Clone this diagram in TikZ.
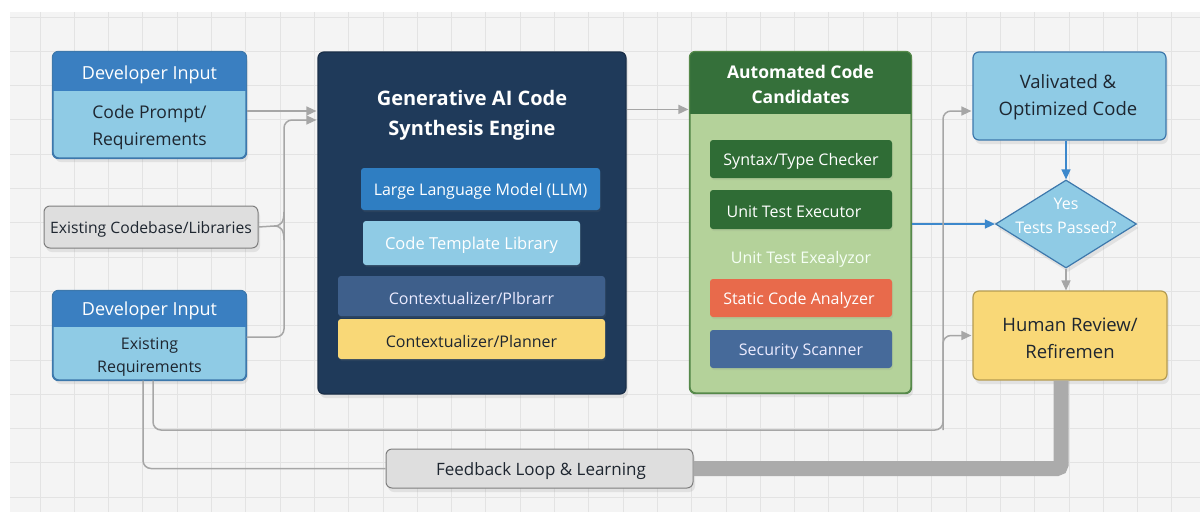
\documentclass[tikz,border=0pt]{standalone}
\usepackage{fontspec}
\setmainfont{Open Sans}
\usetikzlibrary{shapes.geometric,arrows.meta,shadows,calc}
\definecolor{panel}{HTML}{F4F4F4}
\definecolor{gridc}{HTML}{E3E3E3}
\definecolor{hdrblue}{HTML}{3A7FC1}
\definecolor{lblue}{HTML}{8FCBE5}
\definecolor{devb}{HTML}{3D78AC}
\definecolor{navy}{HTML}{1F3A5A}
\definecolor{llmc}{HTML}{2F7EC2}
\definecolor{ctxc}{HTML}{3E5F8B}
\definecolor{yel}{HTML}{F9D877}
\definecolor{yelb}{HTML}{B59C52}
\definecolor{dgreen}{HTML}{35703A}
\definecolor{lgreen}{HTML}{B4D29A}
\definecolor{gborder}{HTML}{56894A}
\definecolor{subgreen}{HTML}{2F6C35}
\definecolor{orng}{HTML}{E86A4B}
\definecolor{secc}{HTML}{466A9A}
\definecolor{fgrey}{HTML}{DEDEDE}
\definecolor{fborder}{HTML}{7E7E7E}
\definecolor{lgrey}{HTML}{A6A6A6}
\definecolor{thickg}{HTML}{ABABAB}
\definecolor{bline}{HTML}{3C88CC}
\definecolor{dtext}{HTML}{1E2630}
\newcommand\fz[2]{\fontsize{#1pt}{#2pt}\selectfont}
\begin{document}
\begin{tikzpicture}[x=1pt,y=-1pt,
  box/.style={rounded corners=6pt, line width=1.2pt, inner sep=0pt},
  shad/.style={drop shadow={opacity=0.16, shadow xshift=2pt, shadow yshift=-4pt}},
  subbox/.style={rounded corners=3pt, inner sep=0pt, drop shadow={opacity=0.12, shadow xshift=1pt, shadow yshift=-2pt}},
  lbl/.style={inner sep=0pt, align=center, yshift=-2.5pt},
  gline/.style={draw=lgrey, line width=1.5pt},
  garrow/.style={gline, -{Triangle[length=10pt,width=9pt]}},
  barrow/.style={draw=bline, line width=1.5pt, -{Triangle[length=10pt,width=9pt]}},
]
\useasboundingbox (0,0) rectangle (1200,512);
\fill[white] (0,0) rectangle (1200,512);
\fill[panel] (10,12) rectangle (1200,512);
\foreach \i in {0,...,33} \draw[gridc, line width=0.9pt] ({40+34.3*\i},12) -- ({40+34.3*\i},512);
\foreach \j in {0,...,14} \draw[gridc, line width=0.9pt] (10,{17+34.3*\j}) -- (1200,{17+34.3*\j});

% ---------- Developer Input 1
\node[box, fill=lblue, draw=devb, shad, minimum width=193pt, minimum height=106pt] (dev1) at (149.5,105) {};
\begin{scope}
\clip[rounded corners=6pt] (dev1.north west) rectangle (dev1.south east);
\fill[hdrblue] (dev1.north west) rectangle ([yshift=-40pt]dev1.north east);
\end{scope}
\draw[devb, line width=1.2pt, rounded corners=6pt] (dev1.north west) rectangle (dev1.south east);
\node[lbl, text=white, font=\fz{18}{22}] (dev1h) at (149.5,72) {Developer Input};
\node[lbl, text=dtext, font=\fz{17.5}{27}] (dev1b) at (149.5,125) {Code Prompt/\\Requirements};

% ---------- Existing Codebase
\node[box, fill=fgrey, draw=fborder, shad, minimum width=214pt, minimum height=42pt, line width=1pt] (exist) at (151,227) {};
\node[lbl, text=dtext, font=\fz{15.7}{20}] (existt) at (151,227) {Existing Codebase/Libraries};

% ---------- Developer Input 2
\node[box, fill=lblue, draw=devb, shad, minimum width=193pt, minimum height=89pt] (dev2) at (149.5,335.5) {};
\begin{scope}
\clip[rounded corners=6pt] (dev2.north west) rectangle (dev2.south east);
\fill[hdrblue] (dev2.north west) rectangle ([yshift=-37pt]dev2.north east);
\end{scope}
\draw[devb, line width=1.2pt, rounded corners=6pt] (dev2.north west) rectangle (dev2.south east);
\node[lbl, text=white, font=\fz{18}{22}] (dev2h) at (149.5,308) {Developer Input};
\node[lbl, text=dtext, font=\fz{16}{23}] (dev2b) at (149.5,354.5) {Existing\\Requirements};

% ---------- Engine
\node[box, fill=navy, draw=navy!80!black, shad, minimum width=308pt, minimum height=342pt] (engine) at (472,223) {};
\node[lbl, text=white, font=\bfseries\fz{20}{30}] (engt) at (472,113) {Generative AI Code\\Synthesis Engine};
\node[subbox, fill=llmc, minimum width=239pt, minimum height=42pt] (llm) at (480.5,189) {};
\node[lbl, text=white, font=\fz{16}{20}] (llmt) at (480.5,189) {Large Language Model (LLM)};
\node[subbox, fill=lblue, minimum width=217pt, minimum height=44pt] (tmpl) at (471.5,243) {};
\node[lbl, text=white, font=\fz{16.5}{20}] (tmplt) at (471.5,243) {Code Template Library};
\node[subbox, fill=ctxc, minimum width=267pt, minimum height=40pt] (ctx1) at (471.5,296) {};
\node[lbl, text=white!92!blue, font=\fz{16}{20}] (ctx1t) at (471.5,296) {Contextualizer/Plbrarr};
\node[subbox, fill=yel, minimum width=267pt, minimum height=40pt] (ctx2) at (471.5,339) {};
\node[lbl, text=dtext, font=\fz{16}{20}] (ctx2t) at (471.5,339) {Contextualizer/Planner};

% ---------- Automated Code Candidates
\node[box, fill=lgreen, draw=gborder, shad, minimum width=221pt, minimum height=341pt] (cand) at (800.5,222.5) {};
\begin{scope}
\clip[rounded corners=6pt] (cand.north west) rectangle (cand.south east);
\fill[dgreen] (cand.north west) rectangle ([yshift=-63pt]cand.north east);
\end{scope}
\draw[gborder, line width=1.2pt, rounded corners=6pt] (cand.north west) rectangle (cand.south east);
\node[lbl, text=white, font=\bfseries\fz{17.5}{25}] (candt) at (800.5,81.5) {Automated Code\\Candidates};
\node[subbox, fill=subgreen, minimum width=182pt, minimum height=38pt] (syn) at (801,159) {};
\node[lbl, text=white, font=\fz{16}{20}] (synt) at (801,159) {Syntax/Type Checker};
\node[subbox, fill=subgreen, minimum width=182pt, minimum height=39pt] (ute) at (801,209.5) {};
\node[lbl, text=white, font=\fz{16}{20}] (utet) at (794,209.5) {Unit Test Executor};
\node[lbl, text=white!96!green, font=\fz{16}{20}] (exea) at (801,257) {Unit Test Exealyzor};
\node[subbox, fill=orng, minimum width=182pt, minimum height=38pt] (sca) at (801,298) {};
\node[lbl, text=white, font=\fz{16}{20}] (scat) at (799,298) {Static Code Analyzer};
\node[subbox, fill=secc, minimum width=182pt, minimum height=38pt] (sec) at (801,349) {};
\node[lbl, text=white!92!blue, font=\fz{16}{20}] (sect) at (801,349) {Security Scanner};

% ---------- Validated
\node[box, fill=lblue, draw=devb, shad, minimum width=193pt, minimum height=88pt] (valid) at (1069.5,96) {};
\node[lbl, text=dtext, font=\fz{18.5}{27}] (validt) at (1068,95) {Valivated \&\\Optimized Code};

% ---------- Diamond
\node[diamond, aspect=1.6, fill=lblue, draw=devb, line width=1.2pt, shad, minimum width=141pt, minimum height=88pt, inner sep=0pt] (dia) at (1066,224) {};
\node[lbl, text=white, font=\fz{16}{24}] (diat) at (1066,213) {Yes\\Tests Passed?};

% ---------- Human Review
\node[box, fill=yel, draw=yelb, shad, minimum width=194pt, minimum height=89pt] (human) at (1070,335.5) {};
\node[lbl, text=dtext, font=\fz{18.5}{27}] (humant) at (1070,336) {Human Review/\\Refiremen};

% ---------- Feedback
\node[box, fill=fgrey, draw=fborder, shad, minimum width=307pt, minimum height=39pt, line width=1pt] (feed) at (539.5,468.5) {};
\node[lbl, text=dtext, font=\fz{17}{20}] (feedt) at (541,468.5) {Feedback Loop \& Learning};

% ---------- Connectors
\draw[garrow, shorten >=1pt] ([yshift=-6pt]dev1.east) coordinate (d1e) -- (d1e -| engine.west);
\coordinate (jx) at (284,120);
\draw[garrow, rounded corners=8pt, shorten >=1pt] ([yshift=-1.5pt]dev2.east) -| (jx) -- (jx -| engine.west);
\coordinate (bj) at (274,226);
\coordinate (bu) at (284,212);
\coordinate (bd) at (284,240);
\draw[gline] (exist.east) -- (bj);
\draw[gline] (bj) .. controls (281,226) and (284,222) .. (bu);
\draw[gline] (bj) .. controls (281,226) and (284,230) .. (bd);

\draw[garrow, shorten >=1pt] ([yshift=-58pt]engine.north east) -- ([yshift=-58pt]cand.north west);
\draw[barrow] ([yshift=-1.5pt]cand.east) -- (dia.west);
\draw[barrow] (dia.north |- valid.south) -- (dia.north);
\draw[garrow] (dia.south) -- (dia.south |- human.north);

\coordinate (lA) at (943,430);
\draw[garrow, rounded corners=8pt, shorten >=1pt] ([xshift=3.5pt]dev2.south) |- (lA) |- ([yshift=-15pt]valid.west);
\draw[garrow, rounded corners=8pt, shorten >=1pt] (lA) |- (human.west);
\draw[gline, rounded corners=8pt] ([xshift=-6.5pt]dev2.south) |- (feed.west);
\draw[draw=thickg, line width=15pt, rounded corners=4pt] (feed.east) -| ([xshift=-9pt]human.south);
\end{tikzpicture}
\end{document}
